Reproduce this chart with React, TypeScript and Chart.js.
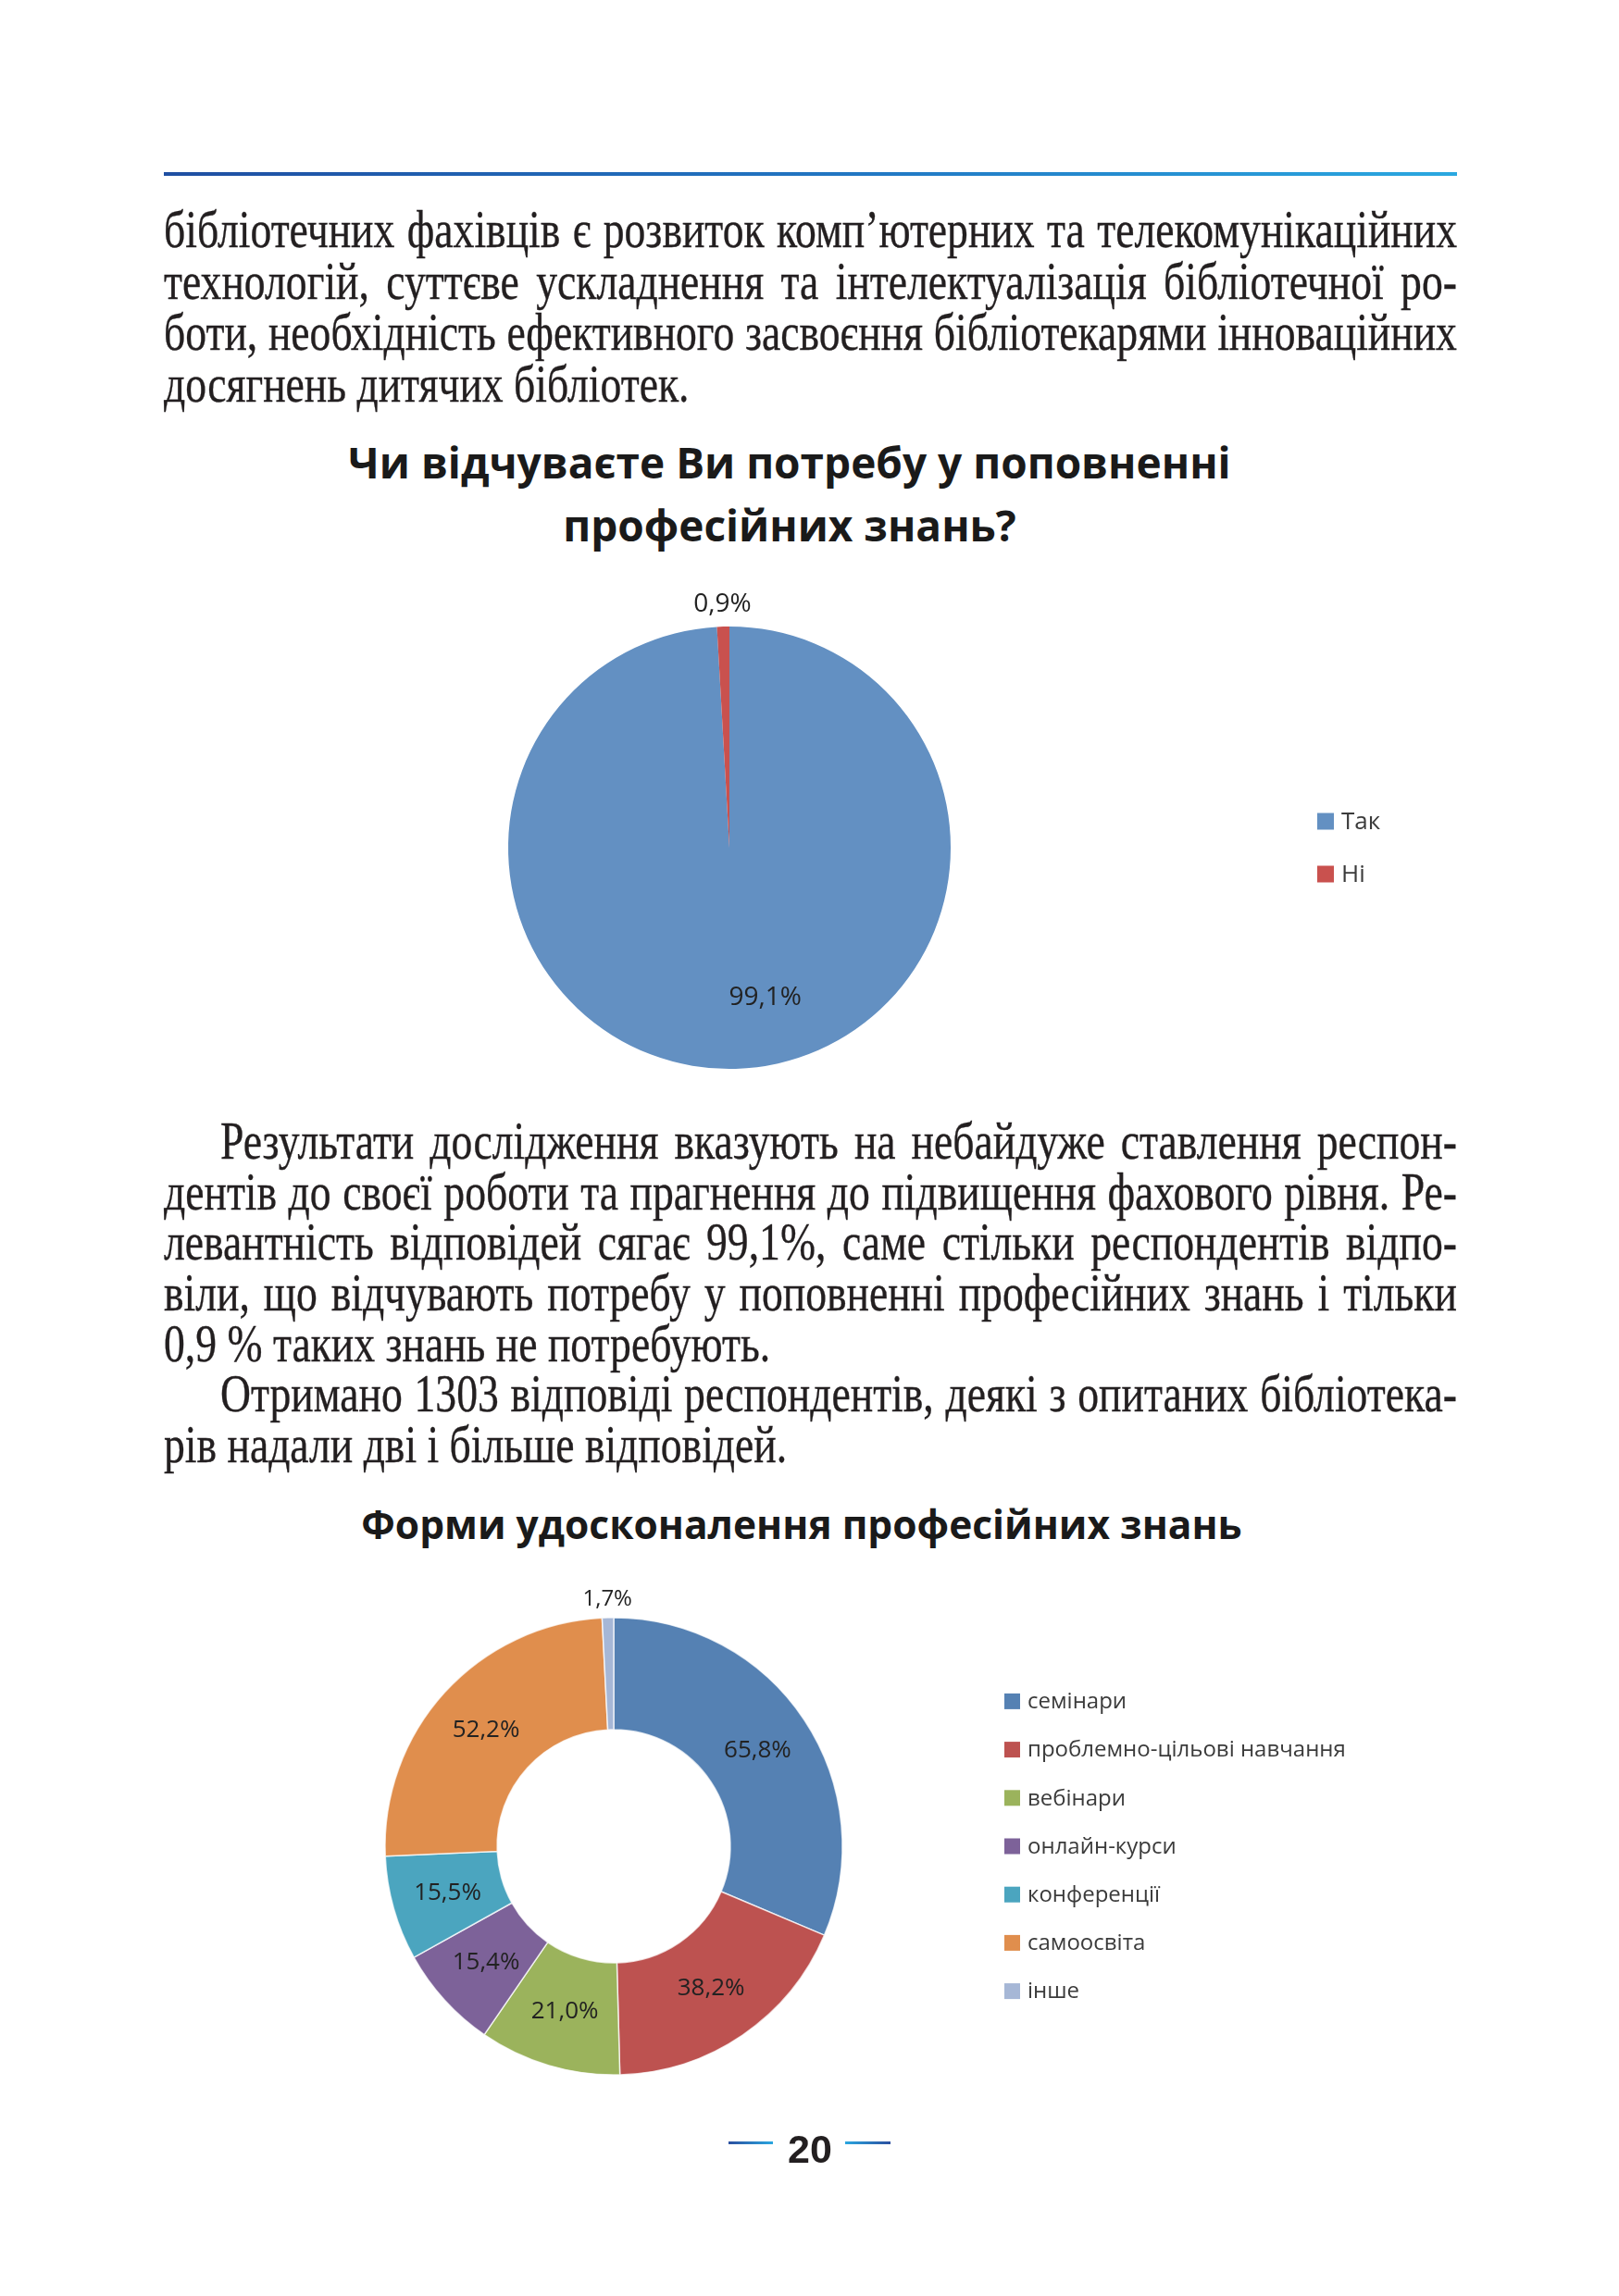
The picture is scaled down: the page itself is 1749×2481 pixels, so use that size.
import React, { useEffect, useRef } from "react";
import { Chart, registerables } from "chart.js";

Chart.register(...registerables);

// ---------------- data ----------------
const needLabels = ["Так", "Ні"];
const needValues = [99.1, 0.9];
const needColors = ["#6390c2", "#c9514e"];
const needTitleLines = ["Чи відчуваєте Ви потребу у поповненні", "професійних знань?"];

const formLabels = [
  "семінари",
  "проблемно-цільові навчання",
  "вебінари",
  "онлайн-курси",
  "конференції",
  "самоосвіта",
  "інше",
];
const formValues = [65.8, 38.2, 21.0, 15.4, 15.5, 52.2, 1.7];
const formColors = ["#5581b3", "#bd5250", "#9bb35c", "#7d6299", "#4ba5bf", "#e08e4d", "#a6b7d6"];
const formTitleText = "Форми удосконалення професійних знань";

const paragraph1 = [
  "бібліотечних фахівців є розвиток комп’ютерних та телекомунікаційних",
  "технологій, суттєве ускладнення та інтелектуалізація бібліотечної ро-",
  "боти, необхідність ефективного засвоєння бібліотекарями інноваційних",
  "досягнень дитячих бібліотек.",
];
const paragraph2 = [
  "Результати дослідження вказують на небайдуже ставлення  респон-",
  "дентів до своєї роботи та прагнення до підвищення фахового рівня. Ре-",
  "левантність відповідей сягає 99,1%, саме стільки респондентів відпо-",
  "віли, що відчувають потребу у поповненні професійних знань і тільки",
  "0,9 % таких знань не потребують.",
];
const paragraph3 = [
  "Отримано 1303 відповіді респондентів, деякі з опитаних бібліотека-",
  "рів надали дві і більше відповідей.",
];
const pageNumber = "20";

// ---------------- styles ----------------
const TEXT_LEFT = 177;
const TEXT_WIDTH = 1397;
const INDENT = 61;
const BODY_FS = 56;
const BODY_SCALE = 0.815;
const BODY_FONT = "'Liberation Serif', 'Times New Roman', serif";
const BODY_COLOR = "#231f20";
const SERIF_ASC = 0.891;
const SERIF_DESC = 0.216;
const TITLE_FONT = "'Open Sans', 'Noto Sans', sans-serif";
const OS_ASC = 1.069;
const OS_DESC = 0.293;

let measureCtx: CanvasRenderingContext2D | null = null;
function measure(text: string, font: string): number {
  if (!measureCtx) {
    const c = document.createElement("canvas");
    measureCtx = c.getContext("2d");
  }
  if (!measureCtx) return text.length * BODY_FS * 0.45;
  measureCtx.font = font;
  return measureCtx.measureText(text).width;
}

function fmt(v: number): string {
  return v.toFixed(1).replace(".", ",") + "%";
}

// ---------------- chart plugins ----------------
const sliceLabels = {
  id: "sliceLabels",
  afterDatasetsDraw(chart: any, _args: any, opts: any) {
    const meta = chart.getDatasetMeta(0);
    const ds = chart.data.datasets[0];
    const values: number[] = ds.data as number[];
    const total = values.reduce((a, b) => a + b, 0);
    const ctx: CanvasRenderingContext2D = chart.ctx;
    ctx.save();
    ctx.fillStyle = opts.color;
    ctx.textAlign = "center";
    ctx.textBaseline = "middle";
    meta.data.forEach((arc: any, i: number) => {
      const p = arc.getProps(["x", "y", "startAngle", "endAngle", "innerRadius", "outerRadius"], true);
      const mid = (p.startAngle + p.endAngle) / 2;
      const frac = values[i] / total;
      let r: number;
      if (frac < opts.outsideThreshold) r = p.outerRadius + opts.outsideOffset;
      else if (p.innerRadius > 0) r = (p.innerRadius + p.outerRadius) / 2;
      else r = p.outerRadius * opts.insideFactor;
      const sx = (opts.shiftX && opts.shiftX[i]) || 0;
      ctx.font = frac < opts.outsideThreshold && opts.outsideFont ? opts.outsideFont : opts.font;
      ctx.fillText(fmt(values[i]), p.x + Math.cos(mid) * r + sx, p.y + Math.sin(mid) * r);
    });
    ctx.restore();
  },
};

const boxLegend = {
  id: "boxLegend",
  afterDraw(chart: any, _args: any, opts: any) {
    const ds = chart.data.datasets[0];
    const labels: string[] = chart.data.labels;
    const ctx: CanvasRenderingContext2D = chart.ctx;
    const n = labels.length;
    const cy = (chart.chartArea.top + chart.chartArea.bottom) / 2;
    const y0 = cy - ((n - 1) * opts.spacing) / 2;
    ctx.save();
    ctx.font = opts.font;
    ctx.textBaseline = "middle";
    ctx.textAlign = "left";
    labels.forEach((lab, i) => {
      const y = y0 + i * opts.spacing;
      ctx.fillStyle = ds.backgroundColor[i];
      ctx.fillRect(opts.x, y - opts.box / 2, opts.box, opts.box);
      ctx.fillStyle = opts.color;
      ctx.fillText(lab, opts.x + opts.box + opts.gap, y + 1);
    });
    ctx.restore();
  },
};

type ChartBoxProps = {
  left: number;
  top: number;
  width: number;
  height: number;
  labels: string[];
  values: number[];
  colors: string[];
  radius: number;
  cutout: string | number;
  padRight: number;
  padBottom: number;
  borderWidth: number;
  labelOpts: any;
  legendOpts: any;
};

function ChartBox(props: ChartBoxProps) {
  const ref = useRef<HTMLCanvasElement | null>(null);
  useEffect(() => {
    if (!ref.current) return;
    const chart = new Chart(ref.current, {
      type: "doughnut",
      data: {
        labels: props.labels,
        datasets: [
          {
            data: props.values,
            backgroundColor: props.colors,
            borderColor: "rgba(255,255,255,0.75)",
            borderWidth: props.borderWidth,
            radius: props.radius,
            cutout: props.cutout,
          } as any,
        ],
      },
      options: {
        animation: false,
        responsive: false,
        events: [],
        radius: props.radius,
        cutout: props.cutout,
        layout: { padding: { left: 0, top: 0, right: props.padRight, bottom: props.padBottom } },
        plugins: {
          legend: { display: false },
          title: { display: false },
          tooltip: { enabled: false },
          sliceLabels: props.labelOpts,
          boxLegend: props.legendOpts,
        } as any,
      } as any,
      plugins: [sliceLabels as any, boxLegend as any],
    });
    return () => chart.destroy();
  }, []);
  return (
    <canvas
      ref={ref}
      width={props.width}
      height={props.height}
      style={{ position: "absolute", left: props.left, top: props.top, width: props.width, height: props.height }}
    />
  );
}

// ---------------- text helpers ----------------
function bodyTop(baseline: number): number {
  const lh = BODY_FS;
  return baseline - ((lh - (SERIF_ASC + SERIF_DESC) * BODY_FS) / 2 + SERIF_ASC * BODY_FS);
}

function Paragraph({ lines, firstBaseline, pitch, indentFirst }: { lines: string[]; firstBaseline: number; pitch: number; indentFirst: boolean }) {
  const font = `${BODY_FS}px ${BODY_FONT}`;
  return (
    <>
      {lines.map((line, i) => {
        const indent = i === 0 && indentFirst ? INDENT : 0;
        const avail = TEXT_WIDTH - indent;
        const top = bodyTop(firstBaseline + i * pitch);
        const last = i === lines.length - 1;
        const common: React.CSSProperties = {
          position: "absolute",
          left: TEXT_LEFT + indent,
          top,
          height: BODY_FS,
          fontFamily: BODY_FONT,
          fontSize: BODY_FS,
          lineHeight: `${BODY_FS}px`,
          color: BODY_COLOR,
          whiteSpace: "nowrap",
          transformOrigin: "0 0",
          WebkitTextStroke: "0.35px #231f20",
        };
        if (last) {
          return (
            <div key={i} style={{ ...common, transform: `scaleX(${BODY_SCALE})` }}>
              {line}
            </div>
          );
        }
        const words = line.split(/\s+/).filter((w) => w.length > 0);
        const wordsW = words.reduce((a, w) => a + measure(w, font), 0);
        const minGap = BODY_FS * 0.18;
        const natural = wordsW + (words.length - 1) * minGap;
        const s = Math.min(BODY_SCALE, avail / natural);
        return (
          <div
            key={i}
            style={{
              ...common,
              width: avail / s,
              transform: `scaleX(${s})`,
              display: "flex",
              justifyContent: "space-between",
            }}
          >
            {words.map((w, j) => (
              <span key={j}>{w}</span>
            ))}
          </div>
        );
      })}
    </>
  );
}

function TitleLine({ text, cx, baseline, size }: { text: string; cx: number; baseline: number; size: number }) {
  const lh = 64;
  const top = baseline - ((lh - (OS_ASC + OS_DESC) * size) / 2 + OS_ASC * size);
  return (
    <div
      style={{
        position: "absolute",
        left: cx - 800,
        width: 1600,
        top,
        height: lh,
        textAlign: "center",
        fontFamily: TITLE_FONT,
        fontWeight: 700,
        fontSize: size,
        lineHeight: `${lh}px`,
        color: "#1a1a1a",
        whiteSpace: "nowrap",
      }}
    >
      {text}
    </div>
  );
}

const P2_PITCH = 54.6;

export default function App() {
  return (
    <div
      style={{
        position: "absolute",
        left: 0,
        top: 0,
        width: 1749,
        height: 2481,
        background: "#ffffff",
        overflow: "hidden",
      }}
    >
      {/* header rule */}
      <div
        style={{
          position: "absolute",
          left: TEXT_LEFT,
          top: 186,
          width: TEXT_WIDTH,
          height: 4,
          background: "linear-gradient(to right, #1f4fa2, #2178c4 55%, #2aa8e0)",
        }}
      />

      <Paragraph lines={paragraph1} firstBaseline={267} pitch={55.5} indentFirst={false} />

      {needTitleLines.map((t, i) => (
        <TitleLine key={i} text={t} cx={853} baseline={517 + i * 68} size={46} />
      ))}

      <ChartBox
        left={177}
        top={600}
        width={1400}
        height={640}
        labels={needLabels}
        values={needValues}
        colors={needColors}
        radius={239}
        cutout={0}
        padRight={178}
        padBottom={8}
        borderWidth={0}
        labelOpts={{
          font: "28px 'Open Sans'",
          color: "#222222",
          outsideThreshold: 0.03,
          outsideOffset: 24,
          insideFactor: 0.68,
          shiftX: [34, 0],
        }}
        legendOpts={{ x: 1246, box: 18, gap: 8, spacing: 57, font: "26px 'Open Sans'", color: "#3b3b3b" }}
      />

      <Paragraph lines={paragraph2} firstBaseline={1252} pitch={P2_PITCH} indentFirst={true} />
      <Paragraph lines={paragraph3} firstBaseline={1252 + 5 * P2_PITCH} pitch={P2_PITCH} indentFirst={true} />

      <TitleLine text={formTitleText} cx={866} baseline={1663} size={42.5} />

      <ChartBox
        left={177}
        top={1690}
        width={1400}
        height={620}
        labels={formLabels}
        values={formValues}
        colors={formColors}
        radius={247}
        cutout={"51%"}
        padRight={428}
        padBottom={10}
        borderWidth={1.5}
        labelOpts={{
          font: "26px 'Open Sans'",
          outsideFont: "24px 'Open Sans'",
          color: "#222222",
          outsideThreshold: 0.03,
          outsideOffset: 20,
          insideFactor: 0.5,
          shiftX: [],
        }}
        legendOpts={{ x: 908, box: 17, gap: 8, spacing: 52.2, font: "24px 'Open Sans'", color: "#3b3b3b" }}
      />

      {/* page number */}
      <div
        style={{
          position: "absolute",
          left: 787,
          top: 2314,
          width: 48,
          height: 3,
          background: "linear-gradient(to right, #2b4f9f, #2aa6df)",
        }}
      />
      <div
        style={{
          position: "absolute",
          left: 913,
          top: 2314,
          width: 49,
          height: 3,
          background: "linear-gradient(to right, #2aa6df, #2b4f9f)",
        }}
      />
      <div
        style={{
          position: "absolute",
          left: 775,
          width: 200,
          top: 2337 - 0.905 * 43 - (50 - 1.117 * 43) / 2,
          height: 50,
          lineHeight: "50px",
          textAlign: "center",
          fontFamily: "'Liberation Sans', Arial, sans-serif",
          fontWeight: 700,
          fontSize: 43,
          color: "#231f20",
        }}
      >
        {pageNumber}
      </div>
    </div>
  );
}
